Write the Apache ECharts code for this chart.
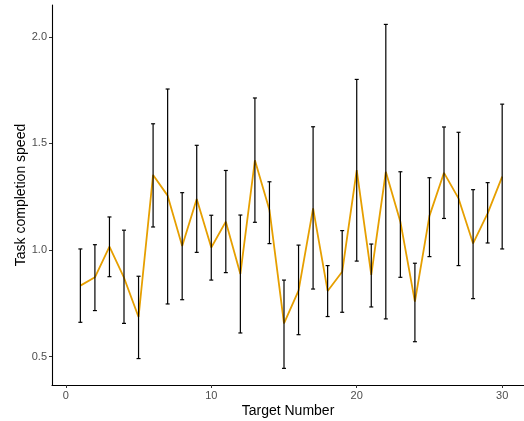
<!DOCTYPE html>
<html>
<head>
<meta charset="utf-8">
<script src="https://cdn.jsdelivr.net/npm/echarts@6/dist/echarts.min.js"></script>
<style>
  html, body { margin: 0; padding: 0; background: #fff; }
  #chart { width: 524px; height: 421px; }
</style>
</head>
<body>
<div id="chart"></div>
<script>
// target numbers 1..30
const targets = [1, 2, 3, 4, 5, 6, 7, 8, 9, 10, 11, 12, 13, 14, 15,
  16, 17, 18, 19, 20, 21, 22, 23, 24, 25, 26, 27, 28, 29, 30];
const speedMean = [0.833, 0.872, 1.016, 0.870, 0.686, 1.352, 1.255, 1.019, 1.239, 1.012,
  1.133, 0.888, 1.421, 1.188, 0.656, 0.810, 1.195, 0.808, 0.898, 1.375,
  0.883, 1.367, 1.133, 0.758, 1.160, 1.362, 1.242, 1.031, 1.172, 1.344];
const speedLow = [0.661, 0.716, 0.875, 0.656, 0.491, 1.108, 0.747, 0.767, 0.989, 0.859,
  0.894, 0.611, 1.130, 1.030, 0.445, 0.603, 0.817, 0.688, 0.708, 0.948,
  0.733, 0.677, 0.872, 0.570, 0.969, 1.148, 0.927, 0.772, 1.033, 1.005];
const speedHigh = [1.005, 1.025, 1.155, 1.093, 0.877, 1.592, 1.755, 1.269, 1.491, 1.163,
  1.373, 1.164, 1.713, 1.320, 0.859, 1.023, 1.578, 0.927, 1.091, 1.800,
  1.028, 2.058, 1.367, 0.938, 1.339, 1.577, 1.552, 1.283, 1.316, 1.684];
const xTicks = [0, 10, 20, 30];
const yTicks = [0.5, 1.0, 1.5, 2.0];

let chart = echarts.init(document.getElementById("chart"));

const lineData = targets.map((t, i) => [t, speedMean[i]]);
const barData = targets.map((t, i) => [t, speedLow[i], speedHigh[i]]);

let option = {
  animation: false,
  grid: { left: 52, right: 0, top: 5, bottom: 36, outerBoundsMode: "none", containLabel: false },
  xAxis: {
    type: "value",
    min: -0.95,
    max: 31.5,
    name: "Target Number",
    nameLocation: "middle",
    nameGap: 19,
    nameMoveOverlap: false,
    nameTextStyle: { color: "#000", fontSize: 14, fontFamily: "Liberation Sans" },
    splitLine: { show: false },
    axisLine: { show: true, onZero: false, lineStyle: { color: "#000", width: 1.1 } },
    axisTick: { show: true, length: 3, customValues: xTicks, lineStyle: { color: "#333" } },
    axisLabel: {
      customValues: xTicks,
      color: "#4D4D4D",
      fontSize: 11,
      margin: 5,
      fontFamily: "Liberation Sans",
    },
  },
  yAxis: {
    type: "value",
    min: 0.367,
    max: 2.149,
    name: "Task completion speed",
    nameLocation: "middle",
    nameGap: 24,
    nameMoveOverlap: false,
    nameTextStyle: { color: "#000", fontSize: 14, fontFamily: "Liberation Sans" },
    splitLine: { show: false },
    axisLine: { show: true, onZero: false, lineStyle: { color: "#000", width: 1.1 } },
    axisTick: { show: true, length: 3, customValues: yTicks, lineStyle: { color: "#333" } },
    axisLabel: {
      customValues: yTicks,
      color: "#4D4D4D",
      fontSize: 11,
      margin: 5,
      fontFamily: "Liberation Sans",
      formatter: (v) => v.toFixed(1),
    },
  },
  series: [
    {
      type: "line",
      data: lineData,
      symbol: "none",
      lineStyle: { color: "#E69F00", width: 1.8 },
      z: 2,
    },
    {
      type: "custom",
      data: barData,
      z: 3,
      renderItem: function (params, api) {
        const x = api.value(0);
        const lo = api.coord([x, api.value(1)]);
        const hi = api.coord([x, api.value(2)]);
        const half = 2;
        const style = { stroke: "#000", lineWidth: 1.2 };
        return {
          type: "group",
          children: [
            { type: "line", shape: { x1: lo[0], y1: lo[1], x2: hi[0], y2: hi[1] }, style: style },
            { type: "line", shape: { x1: lo[0] - half, y1: lo[1], x2: lo[0] + half, y2: lo[1] }, style: style },
            { type: "line", shape: { x1: hi[0] - half, y1: hi[1], x2: hi[0] + half, y2: hi[1] }, style: style },
          ],
        };
      },
    },
  ],
};
chart.setOption(option);
</script>
</body>
</html>
